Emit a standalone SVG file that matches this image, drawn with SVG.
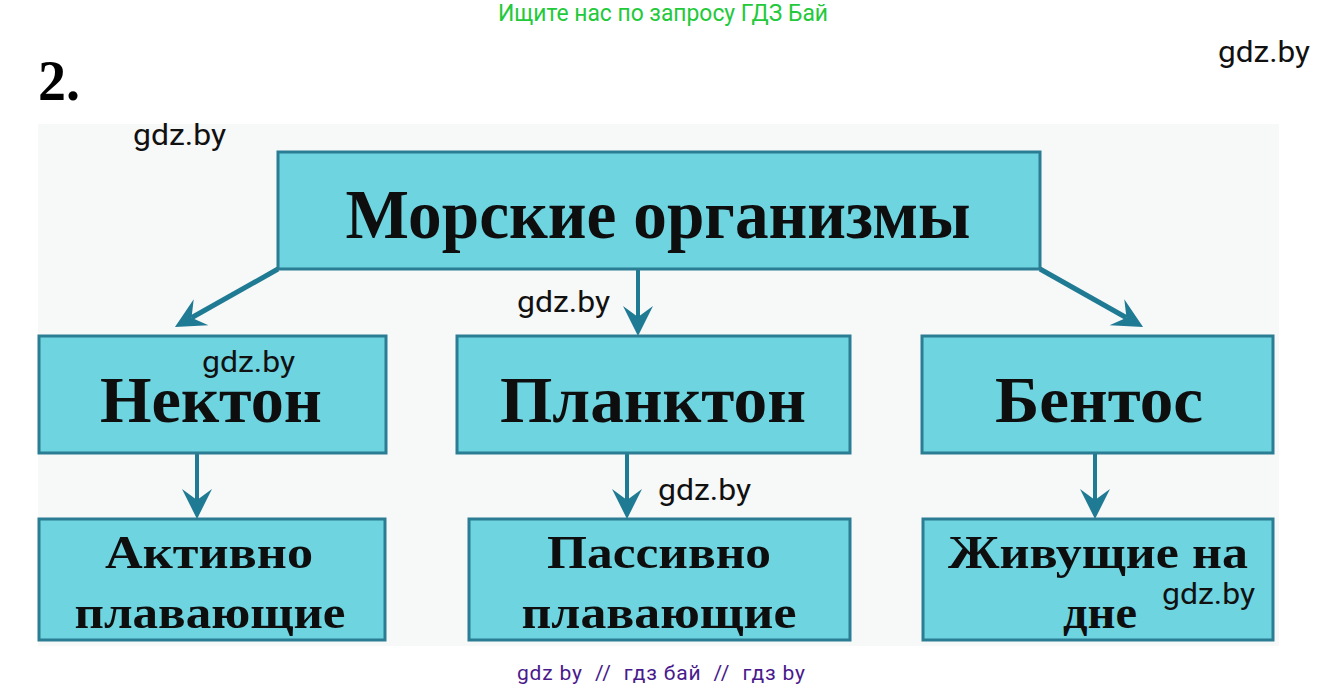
<svg xmlns="http://www.w3.org/2000/svg" width="1327" height="688" viewBox="0 0 1327 688">
<style>
.box{fill:#6dd4e0;stroke:#2a7d92;stroke-width:3}
.lbl{font-family:"Liberation Serif","Times New Roman",serif;font-weight:bold;fill:#0e0e0e;text-anchor:middle}
.wm{font-family:Roboto,"Liberation Sans",Arial,sans-serif;font-size:29px;fill:#111}
.con{stroke:#1f7a93;fill:none}
</style>
<defs>
<marker id="ah" markerUnits="userSpaceOnUse" viewBox="-13 -16 34 32" markerWidth="34" markerHeight="32" refX="0" refY="0" orient="auto">
<path d="M19,0 L-11,-15 L0,0 L-11,15 Z" fill="#1f7a93"/>
</marker>
</defs>
<rect x="0" y="0" width="1327" height="688" fill="#ffffff"/>
<rect x="38" y="124" width="1241" height="522" fill="#f7f8f8"/>
<text x="663" y="21" text-anchor="middle" font-family="Roboto,'Liberation Sans',Arial,sans-serif" font-size="23" fill="#22c93a" textLength="330" lengthAdjust="spacingAndGlyphs">Ищите нас по запросу ГДЗ Бай</text>
<text x="38" y="100" font-family="'Liberation Serif','Times New Roman',serif" font-weight="bold" font-size="56" fill="#000">2.</text>

<g id="connectors">
<line class="con" stroke-width="5" x1="278" y1="269" x2="191.5" y2="317.7" marker-end="url(#ah)"/>
<line class="con" stroke-width="4" x1="638" y1="269" x2="638" y2="317" marker-end="url(#ah)"/>
<line class="con" stroke-width="5" x1="1040" y1="269" x2="1126.5" y2="317.7" marker-end="url(#ah)"/>
<line class="con" stroke-width="4" x1="197" y1="453" x2="197" y2="500" marker-end="url(#ah)"/>
<line class="con" stroke-width="4" x1="627" y1="453" x2="627" y2="500" marker-end="url(#ah)"/>
<line class="con" stroke-width="4" x1="1095" y1="453" x2="1095" y2="500" marker-end="url(#ah)"/>
</g>

<g id="node-root">
<rect class="box" x="278" y="152" width="762" height="117"/>
<text class="lbl" x="658" y="238" font-size="70" textLength="625" lengthAdjust="spacingAndGlyphs">Морские организмы</text>
</g>
<g id="node-nekton">
<rect class="box" x="39" y="336" width="347" height="117"/>
<text class="lbl" x="211" y="422" font-size="65" textLength="222" lengthAdjust="spacingAndGlyphs">Нектон</text>
</g>
<g id="node-plankton">
<rect class="box" x="457" y="336" width="393" height="117"/>
<text class="lbl" x="653" y="422" font-size="65" textLength="306" lengthAdjust="spacingAndGlyphs">Планктон</text>
</g>
<g id="node-bentos">
<rect class="box" x="922" y="336" width="351" height="117"/>
<text class="lbl" x="1099" y="422" font-size="65" textLength="208" lengthAdjust="spacingAndGlyphs">Бентос</text>
</g>
<g id="node-active">
<rect class="box" x="39" y="519" width="346" height="121"/>
<text class="lbl" x="209" y="568" font-size="47" textLength="208" lengthAdjust="spacingAndGlyphs">Активно</text>
<text class="lbl" x="210" y="628" font-size="47" textLength="271" lengthAdjust="spacingAndGlyphs">плавающие</text>
</g>
<g id="node-passive">
<rect class="box" x="469" y="519" width="381" height="121"/>
<text class="lbl" x="659" y="568" font-size="47" textLength="224" lengthAdjust="spacingAndGlyphs">Пассивно</text>
<text class="lbl" x="659" y="628" font-size="47" textLength="275" lengthAdjust="spacingAndGlyphs">плавающие</text>
</g>
<g id="node-bottom">
<rect class="box" x="923" y="519" width="350" height="121"/>
<text class="lbl" x="1098" y="568" font-size="47" textLength="300" lengthAdjust="spacingAndGlyphs">Живущие на</text>
<text class="lbl" x="1100" y="628" font-size="47" textLength="74" lengthAdjust="spacingAndGlyphs">дне</text>
</g>

<g id="watermarks">
<text class="wm" x="1218" y="62" textLength="92" lengthAdjust="spacingAndGlyphs">gdz.by</text>
<text class="wm" x="133" y="145" textLength="93" lengthAdjust="spacingAndGlyphs">gdz.by</text>
<text class="wm" x="517" y="312" textLength="93" lengthAdjust="spacingAndGlyphs">gdz.by</text>
<text class="wm" x="202" y="372" textLength="93" lengthAdjust="spacingAndGlyphs">gdz.by</text>
<text class="wm" x="658" y="500" textLength="93" lengthAdjust="spacingAndGlyphs">gdz.by</text>
<text class="wm" x="1162" y="604" textLength="93" lengthAdjust="spacingAndGlyphs">gdz.by</text>
</g>
<text x="661" y="680" text-anchor="middle" font-family="Roboto,'Liberation Sans',Arial,sans-serif" font-size="21" fill="#4a1a8c" style="white-space:pre" textLength="288" lengthAdjust="spacing">gdz by  //  гдз бай  //  гдз by</text>
</svg>
